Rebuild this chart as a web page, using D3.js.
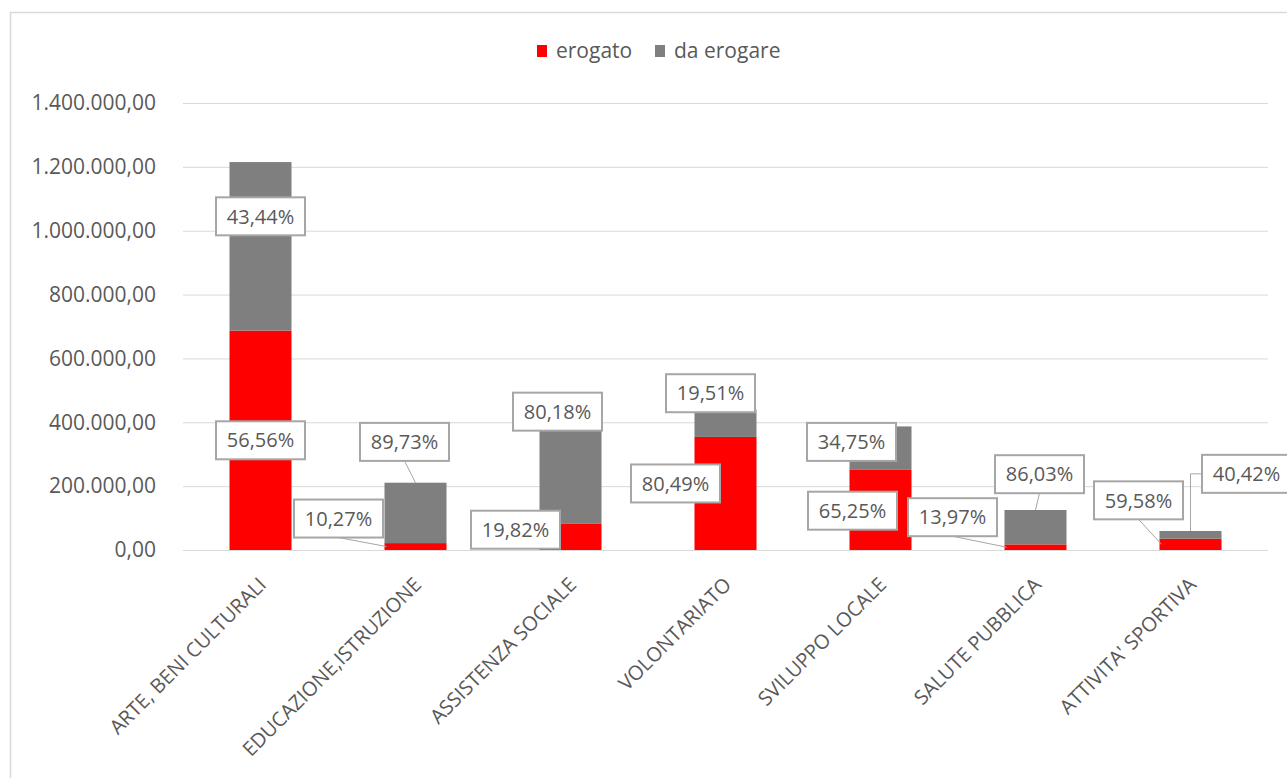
<!DOCTYPE html>
<html>
<head>
<meta charset="utf-8">
<script src="https://cdn.jsdelivr.net/npm/d3@7"></script>
<style>
  body { margin: 0; background: #fff; }
  svg { display: block; }
</style>
</head>
<body>
<svg id="chart" width="1287" height="778"></svg>
<script>
// Data
var categories = ["ARTE, BENI CULTURALI", "EDUCAZIONE,ISTRUZIONE", "ASSISTENZA SOCIALE", "VOLONTARIATO",
                  "SVILUPPO LOCALE", "SALUTE PUBBLICA", "ATTIVITA' SPORTIVA"];
var erogato   = [687200, 21650, 83250, 354150, 252500, 17500, 35450];
var daErogare = [527800, 189150, 336750, 85850, 134500, 107800, 24050];
var pctErogato   = [56.56, 10.27, 19.82, 80.49, 65.25, 13.97, 59.58];
var pctDaErogare = [43.44, 89.73, 80.18, 19.51, 34.75, 86.03, 40.42];
var yTicks = [0, 200000, 400000, 600000, 800000, 1000000, 1200000, 1400000];
var seriesNames = ["erogato", "da erogare"];

// where the callouts sit, relative to the middle of their segment (px), and their leader lines
var offErogato   = [[0, 0], [-77, -28], [-55, -7], [-50, -10], [-28, 1], [-83, -30], [-52, -44]];
var offDaErogare = [[0, -30], [-11, -71], [-13, -58], [-15, -30], [-29, -6], [4, -53], [56, -61]];
var leadErogato   = [null, "left", null, null, null, "left", "left"];
var leadDaErogare = [null, "top", null, null, null, "top", "elbow"];

var colors = ["#ff0000", "#7f7f7f"];
var textColor = "#595959";
var font = "'Open Sans', sans-serif";

var svg = d3.select("#chart");
var margin = {left: 183, right: 1268, top: 103, bottom: 550};

var it = d3.formatLocale({decimal: ",", thousands: ".", grouping: [3], currency: ["€", ""]});
var fmt = it.format(",.2f");
var pct = function(v) { return v.toFixed(2).replace(".", ",") + "%"; };

// chart frame
svg.append("path")
  .attr("d", "M10.5,1000V12.5H1300")
  .attr("fill", "none")
  .attr("stroke", "#d9d9d9")
  .attr("stroke-width", 1.5);

var x = d3.scaleBand()
  .domain(categories)
  .range([margin.left, margin.right])
  .paddingInner(0.6)
  .paddingOuter(0.3);

var y = d3.scaleLinear()
  .domain([0, 1400000])
  .range([margin.bottom, margin.top]);

// y axis + gridlines
var yAxis = svg.append("g")
  .attr("transform", "translate(" + margin.left + ",0)")
  .call(d3.axisLeft(y)
    .tickValues(yTicks)
    .tickSize(-(margin.right - margin.left))
    .tickPadding(27)
    .tickFormat(fmt));
yAxis.select(".domain").remove();
yAxis.selectAll("line").attr("stroke", "#d9d9d9").attr("stroke-width", 1);
yAxis.selectAll("text")
  .attr("fill", textColor)
  .style("font-family", font)
  .style("font-size", "21px");

// bars
var rows = categories.map(function(c, i) {
  return {cat: c, erogato: erogato[i], daErogare: daErogare[i], i: i};
});
var stack = d3.stack().keys(["erogato", "daErogare"]);
var series = stack(rows);

svg.append("g").selectAll("g")
  .data(series)
  .enter().append("g")
    .attr("fill", function(d, k) { return colors[k]; })
  .selectAll("rect")
  .data(function(d) { return d; })
  .enter().append("rect")
    .attr("x", function(d) { return x(d.data.cat); })
    .attr("width", x.bandwidth())
    .attr("y", function(d) { return y(d[1]); })
    .attr("height", function(d) { return y(d[0]) - y(d[1]); });

// callouts
var callouts = [];
series.forEach(function(s, k) {
  var offs = k === 0 ? offErogato : offDaErogare;
  var leads = k === 0 ? leadErogato : leadDaErogare;
  var pcts = k === 0 ? pctErogato : pctDaErogare;
  s.forEach(function(d, i) {
    var cx = x(d.data.cat) + x.bandwidth() / 2;
    var cy = (y(d[0]) + y(d[1])) / 2;
    callouts.push({
      bx: cx + offs[i][0], by: cy + offs[i][1],
      cx: cx, cy: cy, top: y(d[1]), left: x(d.data.cat),
      lead: leads[i], text: pct(pcts[i])
    });
  });
});

var boxW = 89, boxH = 38;

svg.append("g").selectAll("path")
  .data(callouts.filter(function(d) { return d.lead; }))
  .enter().append("path")
    .attr("fill", "none")
    .attr("stroke", "#a6a6a6")
    .attr("stroke-width", 1)
    .attr("d", function(d) {
      if (d.lead === "left")
        return "M" + d.bx + "," + (d.by + boxH / 2) + "L" + (d.left + 2) + "," + d.cy;
      if (d.lead === "top")
        return "M" + d.bx + "," + (d.by + boxH / 2) + "L" + d.cx + "," + d.top;
      return "M" + (d.bx - boxW / 2) + "," + d.by + "H" + d.cx + "V" + d.top;
    });

var lab = svg.append("g").selectAll("g")
  .data(callouts)
  .enter().append("g")
    .attr("transform", function(d) { return "translate(" + d.bx + "," + d.by + ")"; });

lab.append("rect")
  .attr("x", -boxW / 2)
  .attr("y", -boxH / 2)
  .attr("width", boxW)
  .attr("height", boxH)
  .attr("fill", "#fff")
  .attr("stroke", "#a6a6a6")
  .attr("stroke-width", 2);

lab.append("text")
  .attr("text-anchor", "middle")
  .attr("dy", "0.36em")
  .attr("fill", textColor)
  .style("font-family", font)
  .style("font-size", "20px")
  .text(function(d) { return d.text; });

// x labels
svg.append("g").selectAll("text")
  .data(categories)
  .enter().append("text")
    .attr("transform", function(d) {
      return "translate(" + (x(d) + x.bandwidth() / 2 + 7) + ",586) rotate(-45)";
    })
    .attr("text-anchor", "end")
    .attr("fill", textColor)
    .style("font-family", font)
    .style("font-size", "20px")
    .text(function(d) { return d; });

// legend
var legend = svg.append("g").attr("transform", "translate(537,45)");
var lg = legend.selectAll("g")
  .data(seriesNames)
  .enter().append("g")
    .attr("transform", function(d, i) { return "translate(" + (i * 118) + ",0)"; });
lg.append("rect")
  .attr("width", 10)
  .attr("height", 12)
  .attr("fill", function(d, i) { return colors[i]; });
lg.append("text")
  .attr("x", 19)
  .attr("y", 6)
  .attr("dy", "0.35em")
  .attr("fill", textColor)
  .style("font-family", font)
  .style("font-size", "21px")
  .text(function(d) { return d; });
</script>
</body>
</html>
